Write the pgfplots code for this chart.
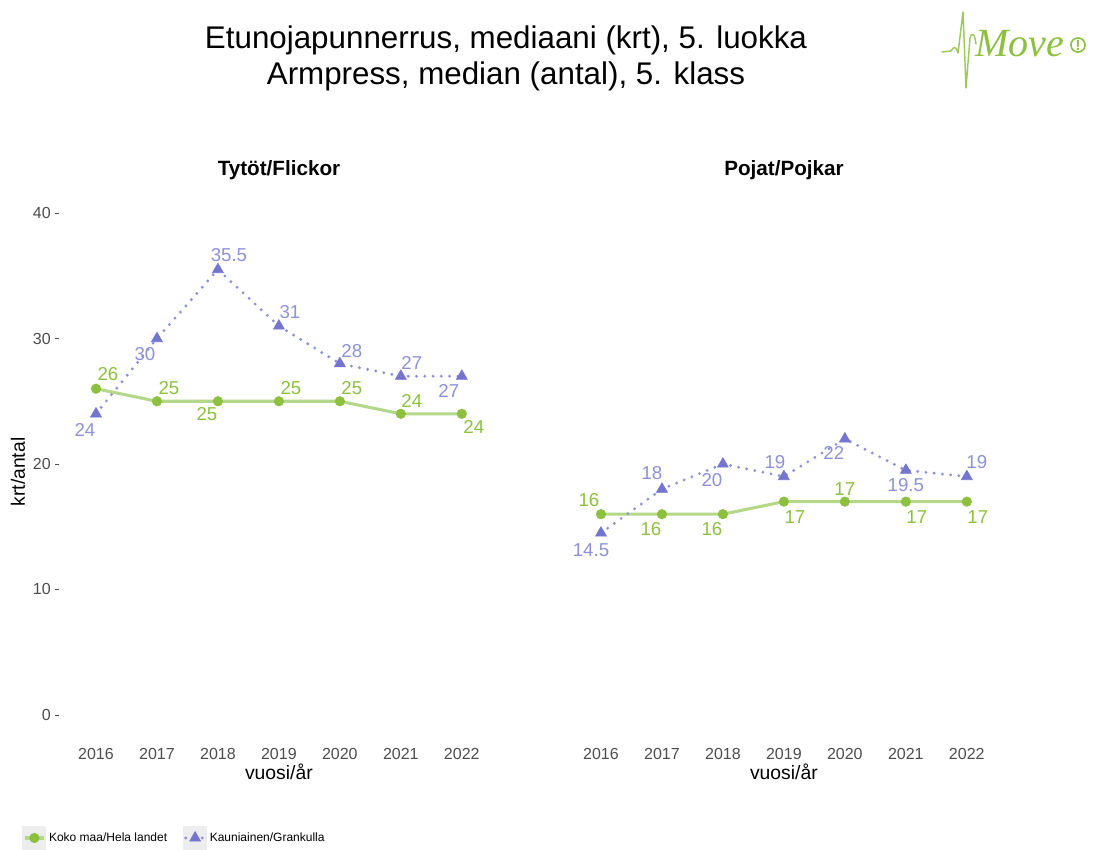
\documentclass[border=0pt]{standalone}
\usepackage{pgfplots}
\pgfplotsset{compat=1.18}
\usepackage{pgfplotstable}
\usepackage{fontspec}
\setmainfont{Liberation Sans}
\newfontfamily\logofont{Liberation Serif}
\definecolor{kgreen}{HTML}{8DC03F}
\definecolor{kgreenl}{HTML}{B3D88A}
\definecolor{kblue}{HTML}{7375CF}
\definecolor{kbluel}{HTML}{8E91DA}
\definecolor{ticktext}{HTML}{4D4D4D}

% x  y  dx dy  (label offsets in px, dy positive = down)
\pgfplotstableread{
x y dx dy
2016 26 12 -15
2017 25 12 -13
2018 25 -11 13
2019 25 12 -13
2020 25 12 -13
2021 24 11 -13
2022 24 12 13
}\girlsnat
\pgfplotstableread{
x y dx dy
2016 24 -11 16
2017 30 -12 16
2018 35.5 11 -14
2019 31 11 -14
2020 28 12 -13
2021 27 11 -13
2022 27 -13 15
}\girlskau
\pgfplotstableread{
x y dx dy
2016 16 -12 -14
2017 16 -11 15
2018 16 -11 15
2019 17 11 15
2020 17 0 -13
2021 17 11 15
2022 17 11 15
}\boysnat
\pgfplotstableread{
x y dx dy
2016 14.5 -10 17
2017 18 -10 -16
2018 20 -11 16
2019 19 -9 -14
2020 22 -11 14
2021 19.5 0 15
2022 19 10 -14
}\boyskau

\pgfplotsset{
  panel/.style={scale only axis, width=329.25pt, height=414pt,
    xmin=2015.4, xmax=2022.6, ymin=-2, ymax=42,
    axis line style={draw=none},
    xtick={2016,...,2022},
    xticklabels={2016,2017,2018,2019,2020,2021,2022},
    ytick={0,10,20,30,40},
    tick pos=left,
    tick align=outside, major tick length=3pt,
    tick style={ticktext, line width=0.6pt},
    xtick style={draw=none},
    /pgf/number format/assume math mode=true,
    ticklabel style={font=\fontsize{12}{14}\selectfont, text=ticktext},
    clip=false,
    xlabel={vuosi/år},
    xlabel style={font=\fontsize{14.5}{16}\selectfont, yshift=4pt},
    legend image code/.code={
      \fill[black!7,draw=none] (0pt,-9pt) rectangle (18pt,9pt);
      \draw[mark repeat=2,mark phase=2,##1] plot coordinates {(2pt,0pt) (9pt,0pt) (16pt,0pt)};
    },
  },
  lbl/.style={nodes near coords={\pgfplotspointmeta}, point meta=explicit symbolic,
    visualization depends on={\thisrow{dx}\as\dx},
    visualization depends on={\thisrow{dy}\as\dy},
    nodes near coords style={font=\fontsize{14}{16}\selectfont, anchor=center,
      xshift={0.75pt*\dx}, yshift={-0.75pt*\dy}}},
  nat/.style={draw=kgreenl, line width=2.3pt, mark=*, mark size=3.6pt,
    mark options={draw=kgreen, fill=kgreen, line width=0.4pt},
    lbl, nodes near coords style={text=kgreen}},
  kau/.style={draw=kbluel, line width=2.4pt, line cap=round, dash pattern=on 0pt off 6.2pt,
    mark=triangle*, mark size=4.8pt,
    mark options={draw=kblue, fill=kblue, line width=0.4pt, solid},
    lbl, nodes near coords style={text=kbluel}},
}

\begin{document}
\begin{tikzpicture}
\path[use as bounding box] (0,0) rectangle (819.75pt,637.5pt);
\def\P(#1,#2){({#1*0.75pt},{637.5pt-#2*0.75pt})}

% titles
\node[font=\fontsize{23.5}{28}\selectfont] at \P(506,40) {Etunojapunnerrus, mediaani (krt), 5. luokka};
\node[font=\fontsize{23.5}{28}\selectfont] at \P(506,76) {Armpress, median (antal), 5. klass};
\node[font=\fontsize{15.5}{18}\selectfont\bfseries] at \P(279,170) {Tytöt/Flickor};
\node[font=\fontsize{15.5}{18}\selectfont\bfseries] at \P(784,170) {Pojat/Pojkar};
\node[font=\fontsize{14.5}{16}\selectfont, rotate=90] at \P(18,472) {krt/antal};

% logo
\draw[kgreen!85, line width=1.1pt, line join=round, line cap=round]
  \P(942,52) -- \P(951,51) .. controls \P(954,46) and \P(956,46) .. \P(958,53)
  -- \P(963,12) -- \P(966,88) -- \P(970,38) .. controls \P(973,30) and \P(975,36) .. \P(976,44);
\node[anchor=west, text=kgreen, font=\logofont\itshape\fontsize{30}{32}\selectfont, inner sep=0pt] at \P(975,44) {Move};
\node[circle, draw=kgreen, line width=1.2pt, text=kgreen, inner sep=0.8pt, font=\bfseries\fontsize{11}{11}\selectfont] at \P(1078,45) {!};

\begin{axis}[panel, at={(44.55pt,82.5pt)}, anchor=south west,
  legend style={at={(-0.094,-0.1775)}, anchor=west, draw=none, fill=none,
    legend columns=2, font=\fontsize{9}{11}\selectfont,
    /tikz/every even column/.append style={column sep=10pt}},
  legend cell align=left]
\addplot[nat] table[x=x,y=y,meta=y] {\girlsnat};
\addlegendentry{Koko maa/Hela landet}
\addplot[kau] table[x=x,y=y,meta=y] {\girlskau};
\addlegendentry{Kauniainen/Grankulla}
\end{axis}

\begin{axis}[panel, at={(423.3pt,82.5pt)}, anchor=south west,
  yticklabels={}, ytick style={draw=none}]
\addplot[nat] table[x=x,y=y,meta=y] {\boysnat};
\addplot[kau] table[x=x,y=y,meta=y] {\boyskau};
\end{axis}
\end{tikzpicture}
\end{document}
